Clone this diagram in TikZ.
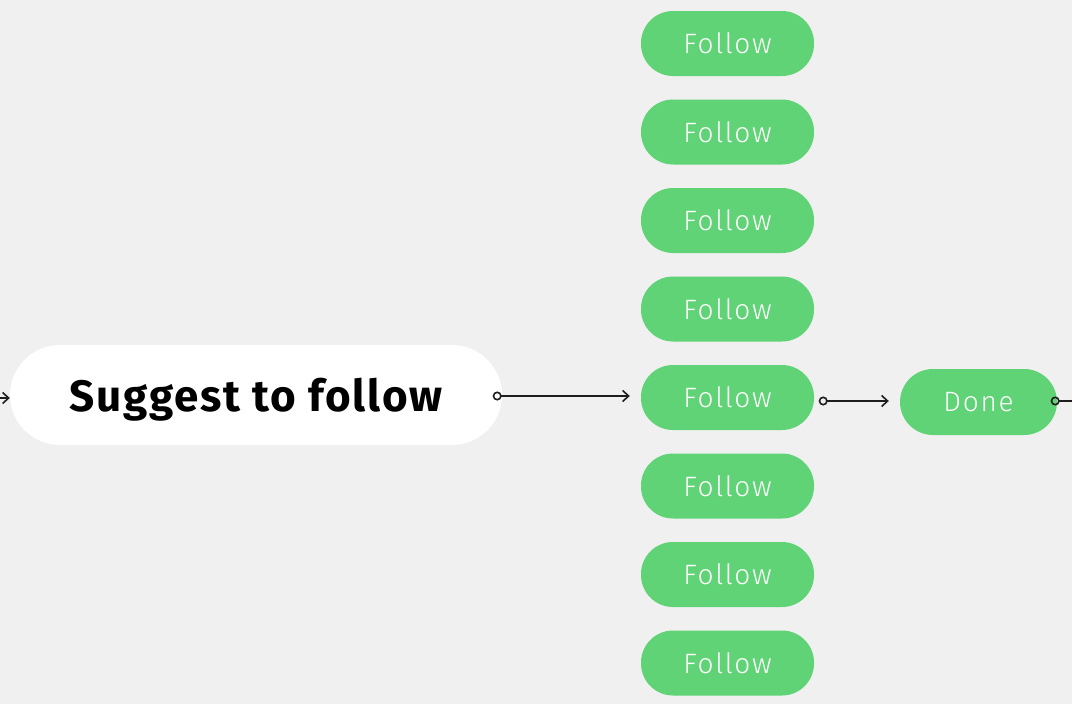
\documentclass[tikz,border=0pt]{standalone}
\usepackage{fontspec}
\setmainfont{Fira Sans}[LetterSpace=4]
\newfontfamily\thinfont{Fira Sans Light}[LetterSpace=6]
\usepackage{tikz}
\usetikzlibrary{arrows.meta,positioning}

\definecolor{bggray}{HTML}{F0F0F0}
\definecolor{followgreen}{HTML}{5FD375}
\definecolor{linedark}{HTML}{1E1E1E}

\tikzset{
	pill/.style={fill=followgreen, text=white, rounded corners=32pt, minimum width=173pt, minimum height=65pt, inner sep=0pt, font=\thinfont\fontsize{28}{33}\selectfont},
	link/.style={draw=linedark, line width=1.8pt, {Circle[open,length=9pt,width=9pt,line width=1.6pt]}-{Straight Barb[length=6pt,width=11pt,line width=1.6pt]}},
	feed/.style={draw=linedark, line width=1.8pt, -{Straight Barb[length=6pt,width=11pt,line width=1.6pt]}},
	tail/.style={draw=linedark, line width=1.8pt, {Circle[open,length=9pt,width=9pt,line width=1.6pt]}-}
}

\begin{document}
\begin{tikzpicture}[x=1pt, y=-1pt]
			\fill [bggray] (0,0) rectangle (1072,704);
			\useasboundingbox (0,0) rectangle (1072,704);

			\node (suggest) at (256, 395) [fill=white, rounded corners=50pt, minimum width=492pt, minimum height=100pt, inner sep=0pt, text depth=0pt, font=\bfseries\fontsize{44}{50}\selectfont] {Suggest to follow};

			\node (follow1) at (727.5, 43.5) [pill] {Follow};
			\node (follow2) at (727.5, 132) [pill] {Follow};
			\node (follow3) at (727.5, 220.5) [pill] {Follow};
			\node (follow4) at (727.5, 309) [pill] {Follow};
			\node (follow5) at (727.5, 397.5) [pill] {Follow};
			\node (follow6) at (727.5, 486) [pill] {Follow};
			\node (follow7) at (727.5, 574.5) [pill] {Follow};
			\node (follow8) at (727.5, 663) [pill] {Follow};

			\node (done) at (978.5, 402) [pill, minimum width=157pt, minimum height=66pt, rounded corners=33pt] {Done};

			\coordinate (inlet) at (0, 398);
			\coordinate (outlet) at (1072, 401);

			\draw [feed] (inlet) to (inlet -| suggest.west);
			\draw [link, shorten >=11pt] ([xshift=-9.5pt, yshift=-1pt]suggest.east) to ([yshift=-1pt]suggest.east -| follow5.west);
			\draw [link, shorten >=11pt] ([xshift=4.5pt]follow5.east |- outlet) to (outlet -| done.west);
			\draw [tail] ([xshift=-6.5pt]done.east |- outlet) to (outlet);
		\end{tikzpicture}
\end{document}
